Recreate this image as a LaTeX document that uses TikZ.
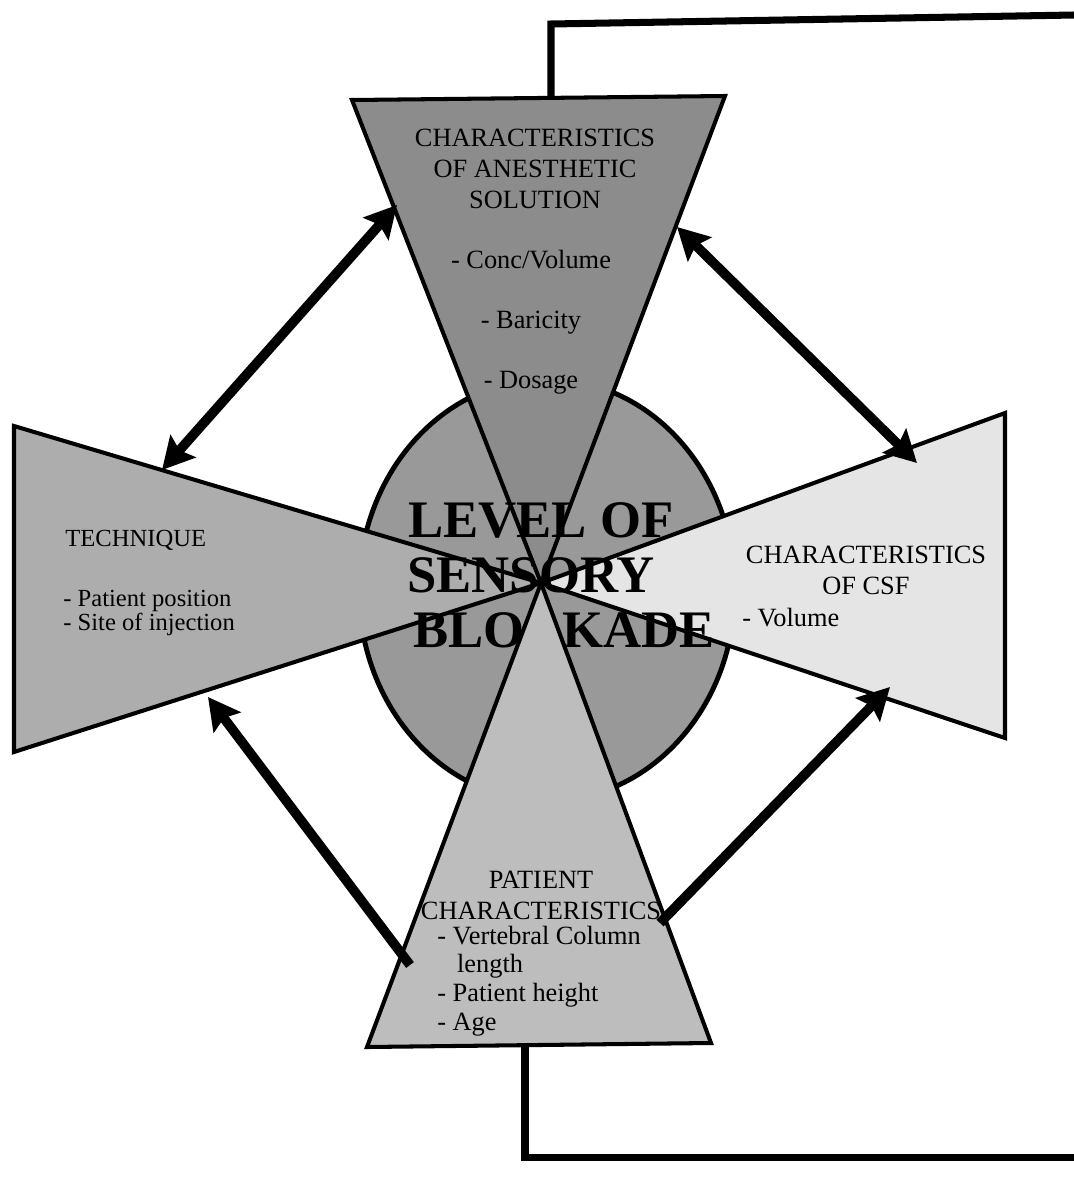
\documentclass[tikz,border=0pt]{standalone}
\usepackage{fontspec}
\setmainfont{Liberation Serif}
\usepackage{tikz}
\usetikzlibrary{arrows.meta,calc}
\definecolor{solfill}{gray}{0.55}
\definecolor{discfill}{gray}{0.60}
\definecolor{tecfill}{gray}{0.68}
\definecolor{patfill}{gray}{0.74}
\definecolor{csffill}{gray}{0.90}

\begin{document}
\begin{tikzpicture}[
                x=0.02cm, y=-0.02cm,
                fanedge/.style={draw=black, line width=2.3pt, line join=miter},
                link/.style={line width=4pt},
                biarrow/.style={line width=5.5pt, {Stealth[length=18pt,width=19pt,inset=3pt]}-{Stealth[length=18pt,width=19pt,inset=3pt]}},
                onearrow/.style={line width=5.5pt, -{Stealth[length=18pt,width=19pt,inset=3pt]}},
                lbl/.style={font=\fontsize{15}{17.6}\selectfont, inner sep=0pt},
                bigtitle/.style={font=\fontsize{30}{31}\selectfont\bfseries, inner sep=0pt, anchor=base west}
                ]
                \useasboundingbox (0,0) rectangle (1074,1178);

                % corners of the five shapes
                \coordinate (ctr) at (541,583);
                \coordinate (solL) at (352,100);
                \coordinate (solR) at (725,96);
                \coordinate (tecT) at (14,426);
                \coordinate (tecB) at (14,752);
                \coordinate (csfT) at (1005,413);
                \coordinate (csfB) at (1005,738);
                \coordinate (patL) at (367,1047);
                \coordinate (patR) at (711,1043);

                % feedback line, top and bottom
                \coordinate (solmid) at (551,98);
                \coordinate (topknee) at (551,24);
                \coordinate (topend) at (1074,15);
                \coordinate (patmid) at (525,1045);
                \coordinate (botend) at (1074,1157);
                \draw[link] (solmid) -- (topknee) -- (topend);
                \draw[link] (patmid) |- (botend);

                \draw[line width=2.8pt, fill=discfill] (547,590) ellipse [x radius=3.76cm, y radius=4.22cm];

                \filldraw[fanedge, fill=tecfill] (tecT) -- (ctr) -- (tecB) -- cycle;
                \filldraw[fanedge, fill=csffill] (csfT) -- (ctr) -- (csfB) -- cycle;
                \filldraw[fanedge, fill=patfill] (patL) -- (ctr) -- (patR) -- cycle;
                \filldraw[fanedge, fill=solfill] (solL) -- (solR) -- (ctr) -- cycle;

                % arrow ends on the shape edges
                \coordinate (a1s) at (397,205);
                \coordinate (a1e) at (162,470);
                \coordinate (a2s) at (677,227);
                \coordinate (a2e) at (917,463);
                \coordinate (a3s) at (410,965);
                \coordinate (a3e) at (208,697);
                \coordinate (a4s) at (660,923);
                \coordinate (a4e) at (890,687);
                \draw[biarrow] (a1s) -- (a1e);
                \draw[biarrow] (a2s) -- (a2e);
                \draw[onearrow] (a3s) -- (a3e);
                \draw[onearrow] (a4s) -- (a4e);

                \node[lbl, align=center] (soltitle) at (535,169) {CHARACTERISTICS\\OF ANESTHETIC\\SOLUTION};
                \node[lbl, align=center] (solitems) at (531,322) {- Conc/Volume\\[16.5pt]- Baricity\\[16.5pt]- Dosage};

                \node[lbl, font=\fontsize{14}{12}\selectfont, anchor=west] (tectitle) at (65,540) {TECHNIQUE};
                \node[lbl, font=\fontsize{14}{12}\selectfont, anchor=west, align=left] (tecitems) at (63,613) {- Patient position\\- Site of injection};

                \node[lbl, align=center] (csftitle) at (866,570) {CHARACTERISTICS\\OF CSF};
                \node[lbl, anchor=west] (csfitem) at (742,618) {- Volume};

                \node[lbl, align=center] (pattitle) at (541,895) {PATIENT\\CHARACTERISTICS};
                \node[lbl, font=\fontsize{15}{16.3}\selectfont, anchor=west, align=left] (patitems) at (437,981) {- Vertebral Column\\\hspace*{0.75em}length\\- Patient height\\- Age};

                \node[bigtitle] (lvlA) at (408,537) {LEVEL OF};
                \node[bigtitle] (lvlB) at (407,592) {SENSORY};
                \node[bigtitle] (lvlC) at (413,647) {BLO\phantom{C}KADE};
            \end{tikzpicture}
\end{document}
